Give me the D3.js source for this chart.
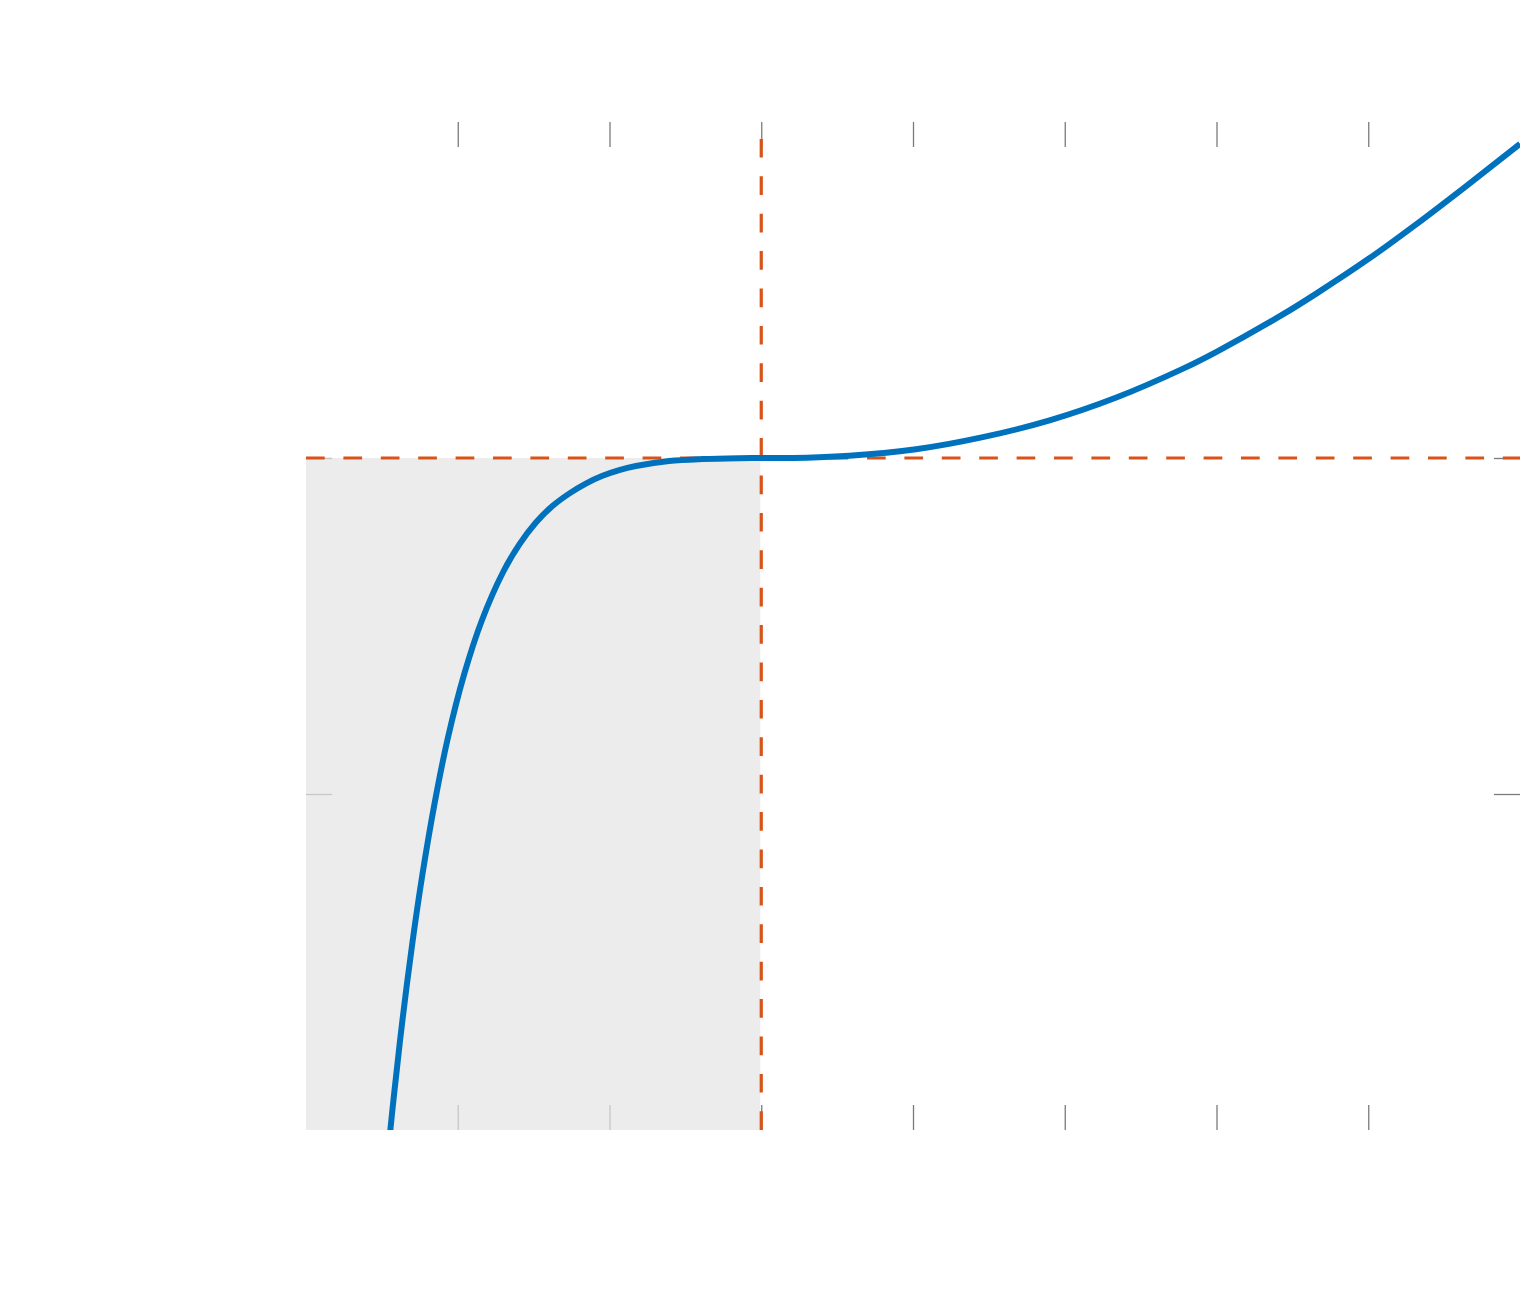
<!DOCTYPE html>
<html>
<head>
<meta charset="utf-8">
<script src="https://cdn.jsdelivr.net/npm/d3@7"></script>
<style>
  body { margin: 0; background: #fff; }
  .tick text { display: none; }
</style>
</head>
<body>
<div id="chart"></div>
<script>
// DATA
const curveX = [-2.5, -2.446, -2.419, -2.365, -2.299, -2.233, -2.156, -2.068, -1.958, -1.84, -1.705, -1.595, -1.485, -1.376, -1.266, -1.156, -1.046, -0.936, -0.826, -0.607, -0.387, -0.15, 0,
                0.3, 0.58, 1.02, 1.46, 1.9, 2.34, 2.78, 3.0, 3.44, 3.66, 4.0, 4.32, 4.65, 5.0]
const curveY = [-2.26, -2.008, -1.891, -1.675, -1.443, -1.240, -1.036, -0.839, -0.644, -0.482, -0.343, -0.258, -0.192, -0.143, -0.106, -0.076, -0.053, -0.036, -0.024, -0.009, -0.003, -0.0004, 0,
                0.001, 0.0066, 0.026, 0.062, 0.112, 0.180, 0.266, 0.316, 0.428, 0.490, 0.592, 0.697, 0.811, 0.935]
const xTicks = [-2, -1, 0, 1, 2, 3, 4]
const yTicks = [-1, 0]
const xDomain = [-3, 5]
const yDomain = [-2, 1]
const refX = 0
const refY = 0

const width = 1536, height = 1289
const plotLeft = 306, plotRight = 1520, plotTop = 122, plotBottom = 1130

// SCALE
const xScale = d3.scaleLinear().domain(xDomain).range([plotLeft, plotRight])
const yScale = d3.scaleLinear().domain(yDomain).range([plotBottom, plotTop])

const svg = d3.select("#chart")
    .append("svg")
    .attr("width", width)
    .attr("height", height)

svg.append("defs").append("clipPath")
    .attr("id", "plotclip")
    .append("rect")
    .attr("x", plotLeft).attr("y", plotTop)
    .attr("width", plotRight - plotLeft).attr("height", plotBottom - plotTop)

// DRAW TICKS (no labels, no spines)
function ticks(g) {
    g.select(".domain").remove()
    g.selectAll(".tick line").attr("stroke", "#7a7a7a").attr("stroke-width", 1.3)
}
svg.append("g").attr("transform", `translate(0,${plotTop})`)
    .call(d3.axisBottom(xScale).tickValues(xTicks).tickSize(25)).call(ticks)
svg.append("g").attr("transform", `translate(0,${plotBottom})`)
    .call(d3.axisTop(xScale).tickValues(xTicks).tickSize(25)).call(ticks)
svg.append("g").attr("transform", `translate(${plotLeft},0)`)
    .call(d3.axisRight(yScale).tickValues(yTicks).tickSize(26)).call(ticks)
svg.append("g").attr("transform", `translate(${plotRight},0)`)
    .call(d3.axisLeft(yScale).tickValues(yTicks).tickSize(26)).call(ticks)

// SHADED REGION
svg.append("rect")
    .attr("x", xScale(xDomain[0]))
    .attr("y", yScale(refY))
    .attr("width", xScale(refX) - xScale(xDomain[0]) - 1)
    .attr("height", yScale(yDomain[0]) - yScale(refY))
    .attr("fill", "#e5e5e5")
    .attr("fill-opacity", 0.72)

// REFERENCE LINES
svg.append("line")
    .attr("x1", xScale(xDomain[0])).attr("x2", xScale(xDomain[1]))
    .attr("y1", yScale(refY)).attr("y2", yScale(refY))
    .attr("stroke", "#D95319").attr("stroke-width", 3.2)
    .attr("stroke-dasharray", "18.7,18.7")
svg.append("line")
    .attr("x1", xScale(refX)).attr("x2", xScale(refX))
    .attr("y1", yScale(yDomain[0])).attr("y2", yScale(yDomain[1]))
    .attr("stroke", "#D95319").attr("stroke-width", 3.2)
    .attr("stroke-dasharray", "18.7,18.7")

// DRAW CURVE
const pts = curveX.map((x, i) => [x, curveY[i]])
const line = d3.line()
    .x(d => xScale(d[0]))
    .y(d => yScale(d[1]))
    .curve(d3.curveCatmullRom.alpha(0.5))

svg.append("path")
    .datum(pts)
    .attr("clip-path", "url(#plotclip)")
    .attr("d", line)
    .attr("fill", "none")
    .attr("stroke", "#0072BD")
    .attr("stroke-width", 6)
    .attr("stroke-linejoin", "round")
</script>
</body>
</html>
